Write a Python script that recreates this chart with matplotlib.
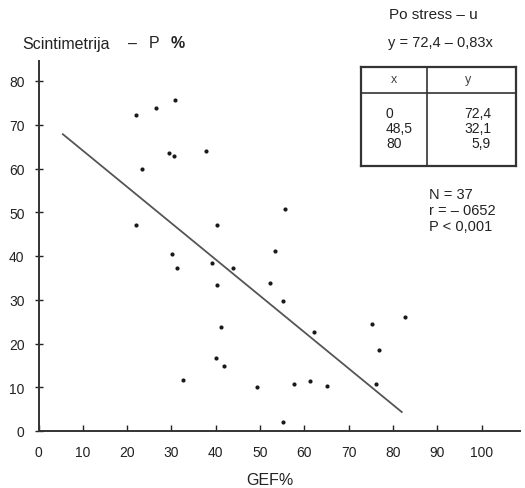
import matplotlib
matplotlib.use("Agg")
import matplotlib.pyplot as plt
from matplotlib.lines import Line2D

plt.rcParams['font.family'] = ['Liberation Sans', 'DejaVu Sans']

# GEF% vs. scintimetry P% after stress
gef = [21.9, 26.5, 30.7, 23.4, 29.5, 30.5, 37.7, 21.9, 40.4, 30.1, 31.3,
       39.2, 44.0, 40.2, 52.3, 53.4, 55.6, 55.1, 41.1, 40.0, 41.8, 62.2,
       32.7, 49.4, 57.7, 61.3, 65.1, 55.1, 75.3, 82.7, 76.9, 76.2]
scint = [72.3, 73.8, 75.7, 60.0, 63.6, 62.9, 63.9, 47.0, 47.1, 40.5, 37.2,
         38.3, 37.2, 33.3, 33.9, 41.2, 50.8, 29.8, 23.7, 16.8, 14.8, 22.7,
         11.6, 10.1, 10.8, 11.5, 10.3, 2.0, 24.4, 26.0, 18.5, 10.8]

intercept = 72.4
slope = -0.83
line_x = [5.5, 82.0]

table_x = ['0', '48,5', '80']
table_y = ['72,4', '32,1', '5,9']
stats = ['N = 37', 'r = – 0652', 'P < 0,001']

W, H = 525, 489
fig = plt.figure(figsize=(W / 100, H / 100), dpi=100)


def fx(px):
    return px / W


def fy(py):
    return 1 - py / H


ax = fig.add_axes([fx(38.5), fy(432), fx(520) - fx(38.5), fy(62) - fy(432)])
ax.set_xlim(0, (520 - 38.5) / 4.43)
ax.set_ylim(0, (432 - 62) / 4.375)

ax.plot(gef, scint, 'o', color='#1a1a1a', markersize=3, markeredgewidth=0)
ax.plot(line_x, [intercept + slope * v for v in line_x], color='#555555', lw=1.3)

for s in ['top', 'right']:
    ax.spines[s].set_visible(False)
for s in ['left', 'bottom']:
    ax.spines[s].set_color('#333333')
    ax.spines[s].set_linewidth(1.4)

ax.set_xticks(range(0, 101, 10))
ax.set_yticks(range(0, 81, 10))
ax.tick_params(axis='x', direction='in', length=4, width=1, pad=10,
               labelsize=10, colors='#222222')
ax.tick_params(axis='y', direction='inout', length=6, width=1, pad=7,
               labelsize=10, colors='#222222')

title_kw = dict(fontsize=11.5, va='center', ha='left', color='#222222')
fig.text(fx(22), fy(44), 'Scintimetrija', **title_kw)
fig.text(fx(128), fy(44), '–', **title_kw)
fig.text(fx(149), fy(44), 'P', **title_kw)
fig.text(fx(171), fy(44), '%', fontweight='bold', **title_kw)
fig.text(fx(270), fy(481), 'GEF%', fontsize=11.5, ha='center', va='center',
         color='#222222')

fig.text(fx(433), fy(15), 'Po stress – u', fontsize=11, ha='center',
         va='center', color='#222222')
fig.text(fx(440), fy(43), 'y = 72,4 – 0,83x', fontsize=10.5, ha='center',
         va='center', color='#222222')

# regression table
tab = fig.add_axes([fx(361), fy(167), fx(516) - fx(361), fy(68) - fy(167)])
tab.set_xlim(0, 1)
tab.set_ylim(0, 1)
tab.set_xticks([])
tab.set_yticks([])
for s in tab.spines.values():
    s.set_linewidth(1.6)
    s.set_color('#333333')
tab.add_line(Line2D([0.424, 0.424], [0, 1], color='#333333', lw=1.2))
tab.add_line(Line2D([0, 1], [0.737, 0.737], color='#333333', lw=1.2))

fig.text(fx(394), fy(80), 'x', fontsize=9, ha='center', va='center', color='#444444')
fig.text(fx(468), fy(80), 'y', fontsize=9, ha='center', va='center', color='#444444')
for i, (a, b) in enumerate(zip(table_x, table_y)):
    yy = fy(114 + 15 * i)
    fig.text(fx(386), yy, a, fontsize=10, ha='left', va='center', color='#222222')
    fig.text(fx(491), yy, b, fontsize=10, ha='right', va='center', color='#222222')

for i, s in enumerate(stats):
    fig.text(fx(429), fy(195 + 16 * i), s, fontsize=10.5, ha='left',
             va='center', color='#222222')

fig.savefig('out.png', dpi=100, facecolor='white')
